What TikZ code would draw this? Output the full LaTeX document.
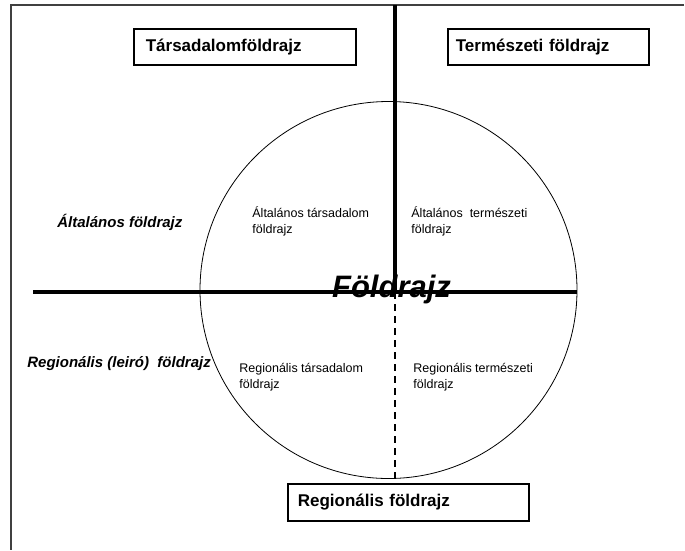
\documentclass[tikz,border=0pt]{standalone}
\usepackage{fontspec}
\setmainfont{Liberation Sans}
\usetikzlibrary{positioning,calc}

\begin{document}
\begin{tikzpicture}[x=1pt,y=-1pt,thick]
\tikzstyle{field} = [draw,line width=1.6pt,fill=white,shape=rectangle,minimum height=36pt,align=left,font=\fontsize{17}{20}\selectfont\bfseries,anchor=north west]
\tikzstyle{axis} = [line width=4pt]
\tikzstyle{side} = [font=\fontsize{15}{18}\selectfont\bfseries\itshape,anchor=base west,inner sep=0pt]
\tikzstyle{branch} = [font=\fontsize{12.5}{16}\selectfont,align=left,anchor=north west,inner sep=0pt]
\useasboundingbox (0,0) rectangle (685,550);
% frame
\coordinate (fr) at (684,5);
\coordinate (ft) at (11,5);
\coordinate (fb) at (11,550);
\draw[line width=1.5pt,black!75] (fr) -- (ft) -- (fb);
% the circle and its axes
\node[draw,circle,line width=0.8pt,minimum size=377pt,inner sep=0pt] (globe) at (388.5,290) {};
\coordinate (vt) at (395,5);
\coordinate (vc) at (395,292);
\coordinate (vb) at (395,478);
\coordinate (hl) at (33,292);
\coordinate (hr) at (577,292);
\draw[axis] (hl) -- (hr);
\draw[axis] (vt) -- (vc);
\draw[line width=2pt,dash pattern=on 7pt off 5pt] (vc) -- (vb);
% boxes
\node[field,inner xsep=12pt,text width=198pt] (tars) at (133,28) {Társadalomföldrajz};
\node[field,inner xsep=8pt,text width=185pt] (term) at (447,28) {Természeti földrajz};
\node[field,inner xsep=10pt,text width=221pt,minimum height=37pt] (reg) at (287,483) {Regionális földrajz};
% side labels
\node[side] (alt) at (57,227) {Általános földrajz};
\node[side] (regl) at (27,367) {Regionális (leiró)\ \ földrajz};
% quarters
\node[branch] (at) at (252,206) {Általános társadalom\\földrajz};
\node[branch] (ate) at (411,206) {Általános\ \ természeti\\földrajz};
\node[branch] (rt) at (239,363) {Regionális társadalom\\földrajz};
\node[branch] (rte) at (413,363) {Regionális természeti\\földrajz};
% centre
\node[font=\fontsize{31}{34}\selectfont\bfseries\itshape,anchor=base,inner sep=0pt] (geo) at (391.5,297) {Földrajz};
\end{tikzpicture}
\end{document}
